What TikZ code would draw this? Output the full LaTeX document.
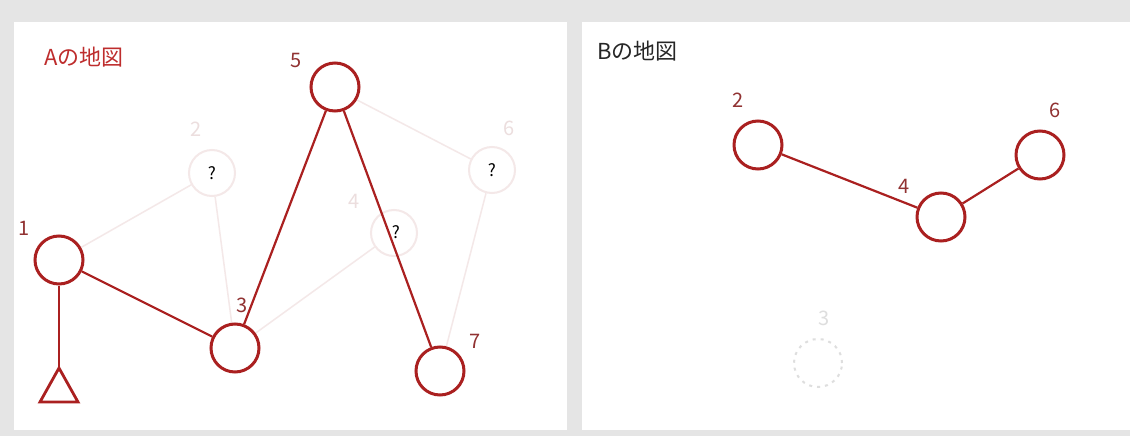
\documentclass[tikz,border=0pt]{standalone}
\usepackage{fontspec}
\setmainfont{Noto Sans CJK JP}
\definecolor{bg}{RGB}{229,229,229}
\definecolor{mred}{RGB}{170,32,32}
\definecolor{tred}{RGB}{190,45,45}
\definecolor{labc}{RGB}{145,50,50}
\definecolor{fadec}{RGB}{244,232,232}
\definecolor{fadel}{RGB}{236,222,222}
\definecolor{dashc}{RGB}{222,222,222}
\tikzset{
  pt/.style={circle,draw=mred,line width=3pt,minimum size=48pt,inner sep=0pt,fill=white},
  ghost/.style={circle,draw=fadec,line width=2pt,minimum size=46pt,inner sep=0pt,font=\fontsize{17}{17}\selectfont},
  dghost/.style={circle,draw=dashc,line width=2pt,dash pattern=on 3pt off 5pt,minimum size=48pt,inner sep=0pt},
  lab/.style={text=labc,font=\fontsize{20}{20}\selectfont,inner sep=0pt},
  flab/.style={text=fadel,font=\fontsize{20}{20}\selectfont,inner sep=0pt},
  redge/.style={draw=mred,line width=2.2pt},
  fedge/.style={draw=fadec,line width=1.5pt},
  ttl/.style={font=\fontsize{22}{22}\selectfont,inner sep=0pt,anchor=west}
}
\begin{document}
\begin{tikzpicture}[x=1pt,y=-1pt]
\useasboundingbox (0,0) rectangle (1130,436);
\fill[bg] (0,0) rectangle (1130,436);
\fill[white] (14,22) rectangle (567,430);
\fill[white] (582,22) rectangle (1130,430);
% ---- A map ----
\node[ttl,text=tred] (ta) at (44,57) {Aの地図};
\node[ghost] (a2) at (212,173) {?};
\node[ghost] (a6) at (492,170) {?};
\node[ghost] (a4) at (394,233) {};
\draw[fedge] (59,260) -- (a2);
\draw[fedge] (a2) -- (235,348);
\draw[fedge] (235,348) -- (a4);
\draw[fedge] (334,88) -- (a6);
\draw[fedge] (a6) -- (440,371);
\node[pt] (a1) at (59,260) {};
\node[pt] (a3) at (235,348) {};
\node[pt] (a5) at (335,87) {};
\node[pt] (a7) at (440,371) {};
\coordinate (tri) at (59,368);
\draw[redge] (a1) -- (tri);
\draw[mred,line width=2.8pt,line join=miter] (tri) -- (78,402) -- (40,402) -- cycle;
\draw[redge] (a1) -- (a3);
\draw[redge] (a3) -- (a5);
\draw[redge] (a5) -- (a7);
\node[font=\fontsize{17}{17}\selectfont,inner sep=0pt] (q4) at (396,232) {?};
\node[lab] (l1) at (24,228) {1};
\node[lab] (l3) at (242,305) {3};
\node[lab] (l5) at (296,61) {5};
\node[lab] (l7) at (475,341) {7};
\node[flab] (l2) at (196,129) {2};
\node[flab] (l6) at (509,128) {6};
\node[flab] (l4) at (354,201) {4};
% ---- B map ----
\node[ttl,text=black!85] (tb) at (597,51) {Bの地図};
\node[pt] (b2) at (758,145) {};
\node[pt] (b4) at (941,217) {};
\node[pt] (b6) at (1040,155) {};
\node[dghost] (b3) at (818,363) {};
\draw[redge] (b2) -- (b4);
\draw[redge] (b4) -- (b6);
\node[lab] (m2) at (738,100) {2};
\node[lab] (m4) at (904,186) {4};
\node[lab] (m6) at (1055,110) {6};
\node[flab,text=dashc] (m3) at (824,318) {3};
\end{tikzpicture}
\end{document}
